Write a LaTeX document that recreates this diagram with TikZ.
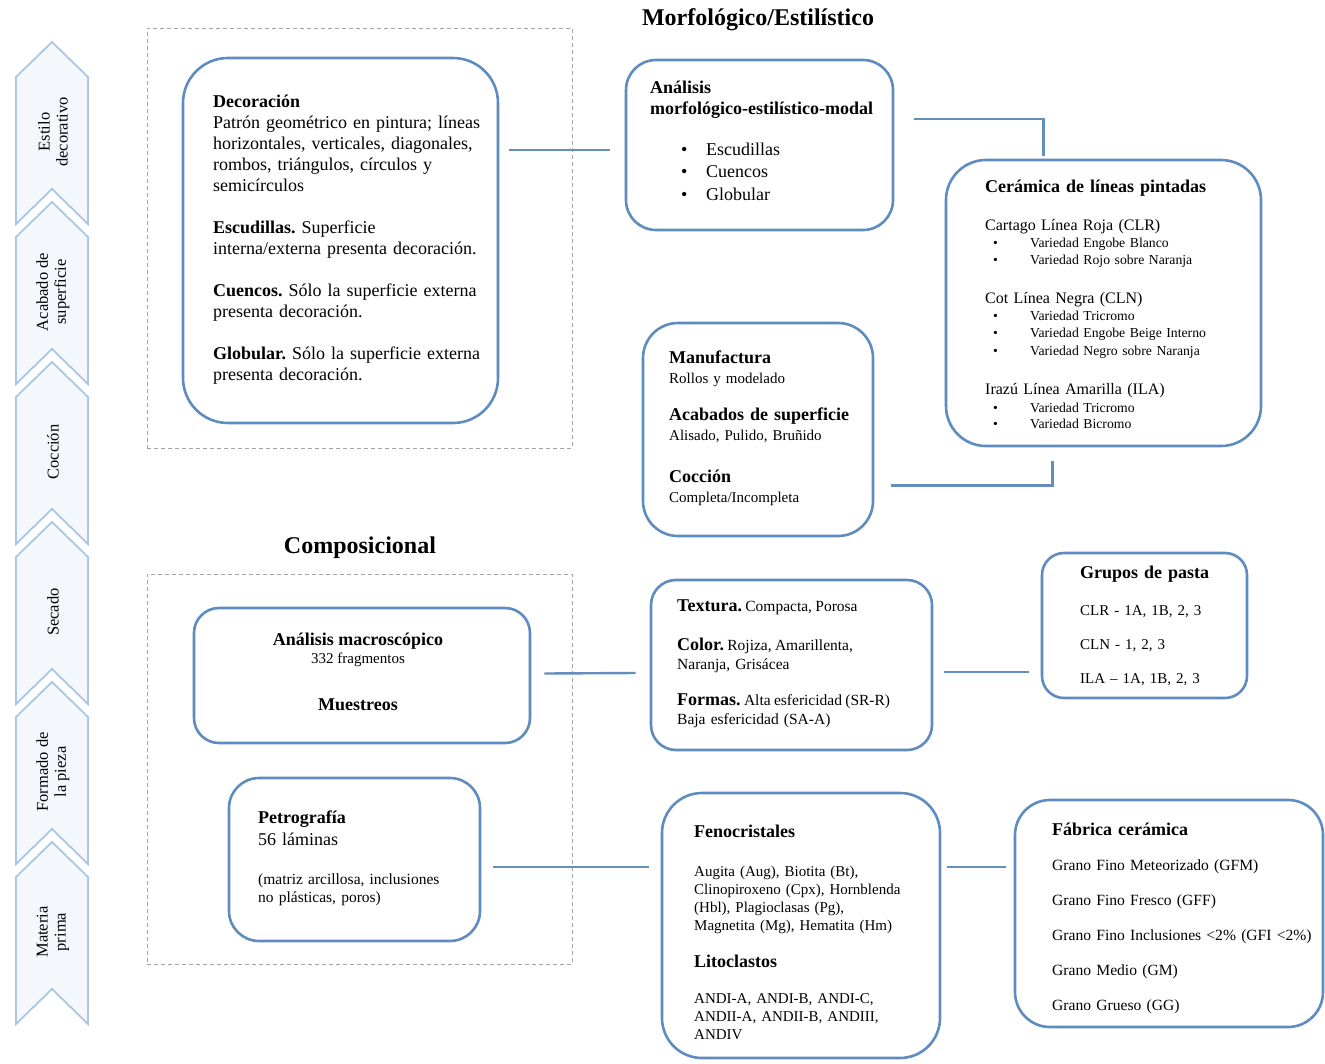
\documentclass[tikz,border=0pt]{standalone}
\usepackage{fontspec}
\setmainfont{Liberation Serif}
\frenchspacing
\definecolor{boxblue}{RGB}{95,140,192}
\definecolor{lineblue}{RGB}{100,142,188}
\definecolor{chevline}{RGB}{172,199,226}
\definecolor{chevfill}{RGB}{244,248,253}
\definecolor{dashgrey}{RGB}{165,165,165}
\newcommand{\fbig}{\fontsize{18}{21}\selectfont}
\newcommand{\fsmall}{\fontsize{15}{18}\selectfont}
\newcommand{\fsmallb}{\fontsize{15.5}{18}\selectfont}
\newcommand{\fitem}{\fontsize{13.7}{17.8}\selectfont}
\begin{document}
\begin{tikzpicture}[x=1pt,y=-1pt,
  rbox/.style={draw=boxblue, line width=2.6pt, fill=white, inner sep=0},
  conn/.style={draw=lineblue, line width=2.4pt},
  dashbox/.style={draw=dashgrey, line width=0.9pt, dash pattern=on 4pt off 3pt, inner sep=0},
  txt/.style={anchor=base west, inner sep=0, align=left, text width=330pt},
  ctxt/.style={anchor=base, inner sep=0},
  chev/.style={draw=chevline, fill=chevfill, line width=1.8pt, line join=miter},
  chevtext/.style={rotate=90, align=center, inner sep=0, font=\fontsize{16.5}{18}\selectfont},
  ttl/.style={anchor=base, inner sep=0, font=\fontsize{24}{28}\selectfont\bfseries}
]
\fill[white] (0,0) rectangle (1325,1063);
\useasboundingbox (0,0) rectangle (1325,1063);

% left chevrons
\foreach \i/\lab in {0/{Estilo\\decorativo},1/{Acabado de\\superficie},2/{Cocción},3/{Secado},4/{Formado de\\la pieza},5/{Materia\\prima}}{
  \pgfmathsetmacro\t{42+160*\i}
  \draw[chev] (52,\t) -- (88,\t+35) -- (88,\t+182) -- (52,\t+147) -- (16,\t+182) -- (16,\t+35) -- cycle;
  \node[chevtext] (chev\i) at (53,\t+90) {\lab};
}

% titles
\node[ttl] (ttlA) at (758,25) {Morfológico/Estilístico};
\node[ttl] (ttlB) at (360,553) {Composicional};

% dashed frames
\node[dashbox, minimum width=425, minimum height=420] (frameA) at (359.5,238) {};
\node[dashbox, minimum width=425, minimum height=390] (frameB) at (359.5,769) {};

% boxes
\node[rbox, minimum width=315, minimum height=365, rounded corners=45] (dec) at (340.5,240.5) {};
\node[rbox, minimum width=267, minimum height=170, rounded corners=30] (ams) at (759.5,145) {};
\node[rbox, minimum width=315, minimum height=286, rounded corners=40] (cer) at (1103.5,303) {};
\node[rbox, minimum width=230, minimum height=213, rounded corners=35] (man) at (758,429.5) {};
\node[rbox, minimum width=336, minimum height=135, rounded corners=25] (mac) at (362,675.5) {};
\node[rbox, minimum width=281, minimum height=170, rounded corners=25] (tex) at (791.5,665) {};
\node[rbox, minimum width=205, minimum height=145, rounded corners=22] (gru) at (1144.5,625.5) {};
\node[rbox, minimum width=251, minimum height=163, rounded corners=30] (pet) at (354.5,859.5) {};
\node[rbox, minimum width=278, minimum height=265, rounded corners=40] (fen) at (801,925.5) {};
\node[rbox, minimum width=308, minimum height=227, rounded corners=35] (fab) at (1169,913.5) {};

% connectors
\draw[conn] ([xshift=10pt,yshift=-5pt]dec.east |- ams.west) -- ([xshift=-15pt,yshift=-5pt]ams.west);
\draw[conn] ([xshift=20pt,yshift=26pt]ams.east) -| ([xshift=-60pt,yshift=3pt]cer.north);
\draw[conn] ([xshift=17pt,yshift=-56pt]man.east) -| ([xshift=-51pt,yshift=-14pt]cer.south);
\draw[conn] ([xshift=13pt,yshift=2pt]mac.east) -- ([xshift=-14pt,yshift=-8pt]tex.west);
\draw[conn] ([xshift=11pt,yshift=-7pt]tex.east) -- ([xshift=-12pt,yshift=-46.5pt]gru.west);
\draw[conn] ([xshift=12pt,yshift=-7.5pt]pet.east) -- ([xshift=-12pt,yshift=58.5pt]fen.west);
\draw[conn] ([xshift=6pt,yshift=58.5pt]fen.east) -- ([xshift=-8pt,yshift=46.5pt]fab.west);

% Decoracion text
\node[txt, font=\fbig] (dectx) at (213,107) {\textbf{Decoración}\\
Patrón geométrico en pintura; líneas\\
horizontales, verticales, diagonales,\\
rombos, triángulos, círculos y\\
semicírculos\\[21pt]
\textbf{Escudillas.} Superficie\\
interna/externa presenta decoración.\\[21pt]
\textbf{Cuencos.} Sólo la superficie externa\\
presenta decoración.\\[21pt]
\textbf{Globular.} Sólo la superficie externa\\
presenta decoración.};

% Analisis morfologico
\node[txt, font=\fbig\bfseries] (amstx) at (650,93) {Análisis\\morfológico-estilístico-modal};
\node[txt, font=\fontsize{18}{22.5}\selectfont] (amsli) at (681,155) {\makebox[25pt][l]{\textbullet}Escudillas\\
\makebox[25pt][l]{\textbullet}Cuencos\\
\makebox[25pt][l]{\textbullet}Globular};

% Ceramica de lineas pintadas
\node[txt, font=\fbig\bfseries] (certt) at (985,192) {Cerámica de líneas pintadas};
\node[txt, font=\fontsize{16}{18}\selectfont] (cerh1) at (985,230) {Cartago Línea Roja (CLR)};
\node[txt, font=\fitem] (ceri1) at (993,247) {\makebox[37pt][l]{\textbullet}Variedad Engobe Blanco\\
\makebox[37pt][l]{\textbullet}Variedad Rojo sobre Naranja};
\node[txt, font=\fontsize{16}{18}\selectfont] (cerh2) at (985,303) {Cot Línea Negra (CLN)};
\node[txt, font=\fitem] (ceri2) at (993,320) {\makebox[37pt][l]{\textbullet}Variedad Tricromo\\
\makebox[37pt][l]{\textbullet}Variedad Engobe Beige Interno\\
\makebox[37pt][l]{\textbullet}Variedad Negro sobre Naranja};
\node[txt, font=\fontsize{16}{18}\selectfont] (cerh3) at (985,394) {Irazú Línea Amarilla (ILA)};
\node[txt, font=\fontsize{13.7}{16.5}\selectfont] (ceri3) at (993,412) {\makebox[37pt][l]{\textbullet}Variedad Tricromo\\
\makebox[37pt][l]{\textbullet}Variedad Bicromo};

% Manufactura
\node[txt, font=\fbig\bfseries] (mant1) at (669,363) {Manufactura};
\node[txt, font=\fsmall] (mans1) at (669,383) {Rollos y modelado};
\node[txt, font=\fbig\bfseries] (mant2) at (669,420) {Acabados de superficie};
\node[txt, font=\fsmall] (mans2) at (669,440) {Alisado, Pulido, Bruñido};
\node[txt, font=\fbig\bfseries] (mant3) at (669,482) {Cocción};
\node[txt, font=\fsmall] (mans3) at (669,502) {Completa/Incompleta};

% Analisis macroscopico
\node[ctxt, font=\fbig\bfseries] (mact1) at (358,645) {Análisis macroscópico};
\node[ctxt, font=\fsmall] (macs1) at (358,663) {332 fragmentos};
\node[ctxt, font=\fbig\bfseries] (mact2) at (358,710) {Muestreos};

% Textura
\node[txt] (text1) at (677,611) {{\fbig\bfseries Textura.} {\fsmallb Compacta, Porosa}};
\node[txt] (text2) at (677,650) {{\fbig\bfseries Color.} {\fsmallb Rojiza, Amarillenta,}};
\node[txt, font=\fsmallb] (text3) at (677,669) {Naranja, Grisácea};
\node[txt] (text4) at (677,705) {{\fbig\bfseries Formas.} {\fsmallb Alta esfericidad (SR-R)}};
\node[txt, font=\fsmallb] (text5) at (677,724) {Baja esfericidad (SA-A)};

% Grupos de pasta
\node[txt, font=\fbig\bfseries] (grut) at (1080,578) {Grupos de pasta};
\node[txt, font=\fontsize{15}{34}\selectfont] (grus) at (1080,615) {CLR - 1A, 1B, 2, 3\\CLN - 1, 2, 3\\ILA – 1A, 1B, 2, 3};

% Petrografia
\node[txt, font=\fbig\bfseries] (pett) at (258,823) {Petrografía};
\node[txt, font=\fbig] (pets1) at (258,845) {56 láminas};
\node[txt, font=\fsmallb] (pets2) at (258,884) {(matriz arcillosa, inclusiones\\no plásticas, poros)};

% Fenocristales
\node[txt, font=\fbig\bfseries] (fent1) at (694,837) {Fenocristales};
\node[txt, font=\fsmall] (fens1) at (694,876) {Augita (Aug), Biotita (Bt),\\
Clinopiroxeno (Cpx), Hornblenda\\
(Hbl), Plagioclasas (Pg),\\
Magnetita (Mg), Hematita (Hm)};
\node[txt, font=\fbig\bfseries] (fent2) at (694,967) {Litoclastos};
\node[txt, font=\fsmall] (fens2) at (694,1003) {ANDI-A, ANDI-B, ANDI-C,\\
ANDII-A, ANDII-B, ANDIII,\\
ANDIV};

% Fabrica ceramica
\node[txt, font=\fbig\bfseries] (fabt) at (1052,835) {Fábrica cerámica};
\node[txt, font=\fontsize{15.6}{35}\selectfont] (fabs) at (1052,870) {Grano Fino Meteorizado (GFM)\\
Grano Fino Fresco (GFF)\\
Grano Fino Inclusiones <2\% (GFI <2\%)\\
Grano Medio (GM)\\
Grano Grueso (GG)};
\end{tikzpicture}
\end{document}
